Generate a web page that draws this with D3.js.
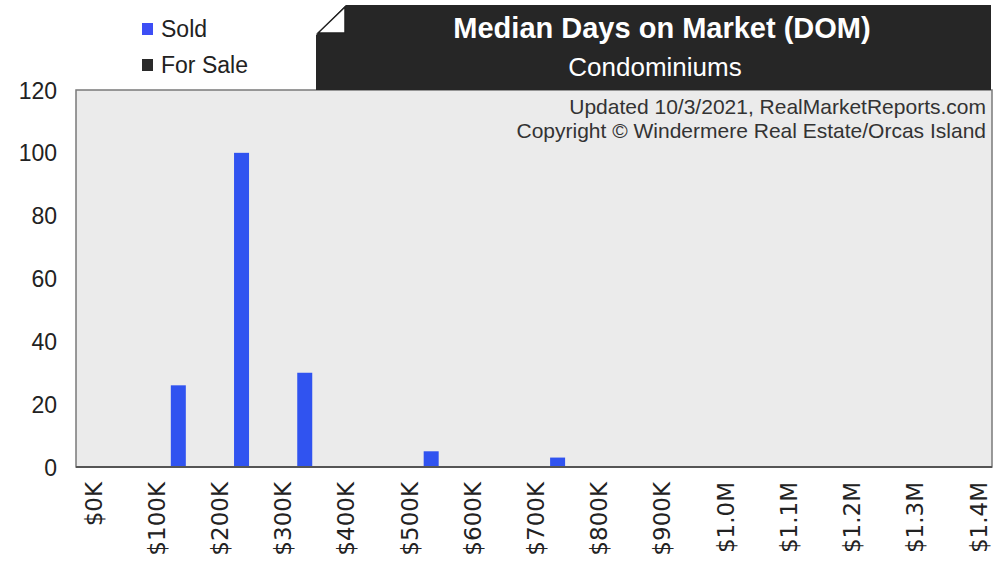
<!DOCTYPE html>
<html>
<head>
<meta charset="utf-8">
<script src="https://cdn.jsdelivr.net/npm/d3@7"></script>
<style>
  body { margin: 0; background: #fff; }
  svg { display: block; }
</style>
</head>
<body>
<svg id="chart"></svg>
<script>
// median days on market, condos - price bins of 100K
var bins = [0, 100000, 200000, 300000, 400000, 500000, 600000, 700000, 800000, 900000, 1000000, 1100000, 1200000, 1300000];
var sold = [0, 26, 100, 30, 0, 5, 0, 3, 0, 0, 0, 0, 0, 0];
var forSale = [0, 0, 0, 0, 0, 0, 0, 0, 0, 0, 0, 0, 0, 0];
var tickValues = [0, 100000, 200000, 300000, 400000, 500000, 600000, 700000, 800000, 900000, 1000000, 1100000, 1200000, 1300000, 1400000];
var tickLabels = ["$0K", "$100K", "$200K", "$300K", "$400K", "$500K", "$600K", "$700K", "$800K", "$900K", "$1.0M", "$1.1M", "$1.2M", "$1.3M", "$1.4M"];
var yTicks = [0, 20, 40, 60, 80, 100, 120];

var width = 1003;
var height = 564;

var svg = d3.select("svg#chart")
    .attr("width", width)
    .attr("height", height);

var plot = { left: 76, right: 992, top: 90, bottom: 467 };

var x = d3.scaleLinear()
    .domain([0, 1400000])
    .range([93, 978]);

var y = d3.scaleLinear()
    .domain([0, 120])
    .range([plot.bottom, plot.top]);

// plot background
svg.append("rect")
    .attr("x", plot.left)
    .attr("y", plot.top)
    .attr("width", plot.right - plot.left)
    .attr("height", plot.bottom - plot.top)
    .attr("fill", "#ebebeb")
    .attr("stroke", "#7a7a7a")
    .attr("stroke-width", 1.5);

// header box with folded corner
var hb = { left: 316, right: 991, top: 5, bottom: 90 };
svg.append("path")
    .attr("d", "M" + (hb.left + 30) + "," + hb.top + " L" + hb.right + "," + hb.top +
        " L" + hb.right + "," + hb.bottom + " L" + hb.left + "," + hb.bottom +
        " L" + hb.left + "," + (hb.top + 30) + " Z")
    .attr("fill", "#262626");
svg.append("path")
    .attr("d", "M" + (hb.left + 2) + "," + (hb.top + 28) + " L" + (hb.left + 29) + "," + (hb.top + 2) +
        " L" + (hb.left + 29) + "," + (hb.top + 28) + " Z")
    .attr("fill", "#fff")
    .attr("stroke", "#222")
    .attr("stroke-width", 1.5);

svg.append("text")
    .attr("x", 662).attr("y", 38)
    .attr("text-anchor", "middle")
    .style("font-family", "Liberation Sans, Arial, sans-serif")
    .style("font-weight", "bold")
    .style("font-size", "29px")
    .attr("fill", "#fff")
    .text("Median Days on Market (DOM)");

svg.append("text")
    .attr("x", 655).attr("y", 76)
    .attr("text-anchor", "middle")
    .style("font-family", "Liberation Sans, Arial, sans-serif")
    .style("font-size", "26px")
    .attr("fill", "#fff")
    .text("Condominiums");

// legend
var legend = [{ name: "Sold", color: "#3d4ef5", y: 29 }, { name: "For Sale", color: "#2a2a2a", y: 65 }];
var lg = svg.selectAll("g.legend").data(legend).enter().append("g").attr("class", "legend");
lg.append("rect")
    .attr("x", 142).attr("y", function(d) { return d.y - 6; })
    .attr("width", 11).attr("height", 12)
    .attr("fill", function(d) { return d.color; });
lg.append("text")
    .attr("x", 161).attr("y", function(d) { return d.y + 8; })
    .style("font-family", "Liberation Sans, Arial, sans-serif")
    .style("font-size", "23px")
    .attr("fill", "#222")
    .text(function(d) { return d.name; });

// credits
var credits = ["Updated 10/3/2021, RealMarketReports.com", "Copyright \u00a9 Windermere Real Estate/Orcas Island"];
svg.selectAll("text.credit").data(credits).enter().append("text")
    .attr("class", "credit")
    .attr("x", 986)
    .attr("y", function(d, i) { return 114 + i * 24; })
    .attr("text-anchor", "end")
    .style("font-family", "Liberation Sans, Arial, sans-serif")
    .style("font-size", "21px")
    .attr("fill", "#333")
    .text(function(d) { return d; });

// bars
var data = bins.map(function(b, i) { return { bin: b, sold: sold[i], forSale: forSale[i] }; });
var half = x(50000) - x(0);

svg.selectAll("rect.sold").data(data).enter().append("rect")
    .attr("class", "sold")
    .attr("x", function(d) { return x(d.bin) + half - 17; })
    .attr("y", function(d) { return y(d.sold); })
    .attr("width", 15)
    .attr("height", function(d) { return y(0) - y(d.sold); })
    .attr("fill", "#3053f0");

svg.selectAll("rect.forsale").data(data).enter().append("rect")
    .attr("class", "forsale")
    .attr("x", function(d) { return x(d.bin) + half - 1; })
    .attr("y", function(d) { return y(d.forSale); })
    .attr("width", 15)
    .attr("height", function(d) { return y(0) - y(d.forSale); })
    .attr("fill", "#2a2a2a");

// baseline
svg.append("line")
    .attr("x1", plot.left).attr("x2", plot.right)
    .attr("y1", plot.bottom).attr("y2", plot.bottom)
    .attr("stroke", "#555").attr("stroke-width", 2);

// y axis
var yAxis = svg.append("g")
    .attr("transform", "translate(" + plot.left + ",0)")
    .call(d3.axisLeft(y).tickValues(yTicks).tickSize(0).tickPadding(19));
yAxis.select(".domain").remove();
yAxis.selectAll("text")
    .attr("dy", "0.35em")
    .style("font-family", "Liberation Sans, Arial, sans-serif")
    .style("font-size", "23px")
    .attr("fill", "#222");

// x axis
var xAxis = svg.append("g")
    .attr("transform", "translate(0," + plot.bottom + ")")
    .call(d3.axisBottom(x).tickValues(tickValues).tickSize(0)
        .tickFormat(function(d, i) { return tickLabels[i]; }));
xAxis.select(".domain").remove();
xAxis.selectAll("text")
    .attr("transform", "rotate(-90)")
    .attr("text-anchor", "end")
    .attr("x", -15)
    .attr("y", 0)
    .attr("dy", "0.35em")
    .style("font-family", "DejaVu Sans, Verdana, sans-serif")
    .style("font-size", "23px")
    .attr("fill", "#222");
</script>
</body>
</html>
